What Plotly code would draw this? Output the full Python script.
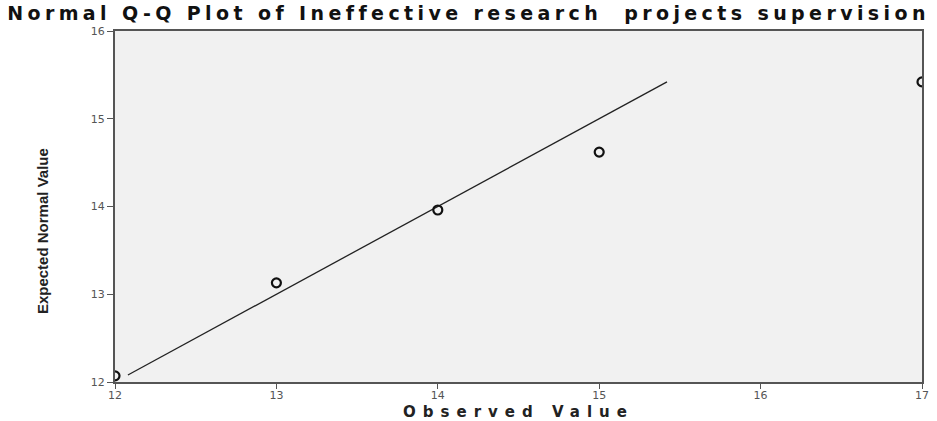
import plotly.graph_objects as go

observed = [12, 13, 14, 15, 17]
expected = [12.07, 13.13, 13.96, 14.62, 15.42]
line_x = [12.08, 15.42]
line_y = [12.08, 15.42]
x_ticks = [12, 13, 14, 15, 16, 17]
y_ticks = [12, 13, 14, 15, 16]

title_text = "Normal Q-Q Plot of Ineffective research  projects supervision"

fig = go.Figure()
fig.add_trace(go.Scatter(x=line_x, y=line_y, mode="lines",
                         line=dict(color="#222222", width=1.3), showlegend=False))
fig.add_trace(go.Scatter(x=observed, y=expected, mode="markers", cliponaxis=True,
                         marker=dict(symbol="circle-open", size=9, color="#111111",
                                     line=dict(width=2.2, color="#111111")),
                         showlegend=False))

fig.update_layout(
    width=937, height=421,
    margin=dict(l=115, r=15, t=31, b=39),
    paper_bgcolor="white", plot_bgcolor="#f1f1f1",
    title=dict(text="<span style='letter-spacing:4.4px'>" + title_text + "</span>",
               x=0.5, xanchor="center", y=0.968, yanchor="middle",
               font=dict(family="DejaVu Sans", size=19, color="#111111", weight="bold")),
    xaxis=dict(range=[12, 17], tickvals=x_ticks, ticks="outside", ticklen=5, tickcolor="#555555",
               showgrid=False, zeroline=False, showline=True, linecolor="#555555", linewidth=2,
               mirror=True, automargin=False, ticklabelstandoff=-3,
               tickfont=dict(family="DejaVu Sans", size=11, color="#555555"),
               title=dict(text="<span style='letter-spacing:7px'>Observed Value</span>", standoff=9,
                          font=dict(family="DejaVu Sans", size=15, color="#222222", weight="bold"))),
    yaxis=dict(range=[12, 16], tickvals=y_ticks, ticks="outside", ticklen=6, tickcolor="#555555",
               showgrid=False, zeroline=False, showline=True, linecolor="#555555", linewidth=2,
               mirror=True, automargin=False,
               tickfont=dict(family="DejaVu Sans", size=11, color="#555555")),
    annotations=[dict(text="Expected Normal Value", textangle=-90, showarrow=False,
                      xref="paper", yref="paper", x=0, y=0.43, xshift=-73,
                      xanchor="center", yanchor="middle",
                      font=dict(family="Liberation Sans", size=15, color="#222222", weight="bold"))],
)
fig.write_html("out.html", config={"displayModeBar": False},
               post_script="document.body.style.margin='0';document.body.style.overflow='hidden';")
